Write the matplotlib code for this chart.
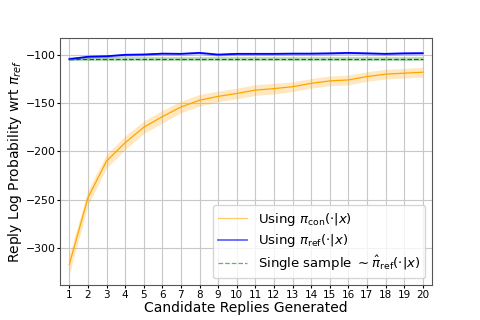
import numpy as np
import matplotlib
matplotlib.use('Agg')
import matplotlib.pyplot as plt

# candidate replies generated
n_replies = list(range(1, 21))

# mean reply log prob wrt pi_ref
con_mean = [-317, -248, -210, -191, -175, -164, -154, -147, -143, -140,
            -136.5, -135, -133, -129.5, -127, -126, -122.5, -120, -119, -118]
con_err = [10, 8, 7, 7, 6.5, 6.5, 6, 6, 5.5, 5.5,
           5.5, 5.5, 5, 5, 5, 5, 5, 5, 5, 5]

ref_mean = [-104.5, -102, -101.5, -100, -99.7, -98.8, -99, -98, -99.8, -99,
            -99, -99, -98.8, -98.8, -98.5, -98, -98.5, -99, -98.5, -98.3]
ref_err = [1.5, 1.5, 1.5, 1.5, 1.5, 1.5, 1.5, 1.5, 1.5, 1.5,
           1.5, 1.5, 1.5, 1.5, 1.5, 1.5, 1.5, 1.5, 1.5, 1.5]

single_mean = -104.5
single_err = 2.3

x = np.array(n_replies)
con_mean = np.array(con_mean)
con_err = np.array(con_err)
ref_mean = np.array(ref_mean)
ref_err = np.array(ref_err)

fig, ax = plt.subplots(figsize=(4.8, 3.2), dpi=100)

ax.plot(x, con_mean, color='orange', lw=0.9, label=r'Using $\pi_{\rm con}(\cdot|x)$')
ax.fill_between(x, con_mean - con_err, con_mean + con_err, color='orange', alpha=0.25, lw=0)

ax.plot(x, ref_mean, color='blue', lw=1.3, label=r'Using $\pi_{\rm ref}(\cdot|x)$')
ax.fill_between(x, ref_mean - ref_err, ref_mean + ref_err, color='blue', alpha=0.2, lw=0)

ax.plot(x, [single_mean] * len(x), color='green', ls='--', lw=0.9,
        label=r'Single sample $\sim\hat{\pi}_{\rm ref}(\cdot|x)$')
ax.fill_between(x, single_mean - single_err, single_mean + single_err, color='green', alpha=0.25, lw=0)

ax.set_xlim(0.5, 20.5)
ax.set_ylim(-338, -83)
ax.set_xticks(n_replies)
ax.tick_params(axis='x', labelsize=7.5, length=2.5, pad=1.2)
ax.tick_params(axis='y', labelsize=7.8, length=2.5, pad=0.5)
ax.grid(True, color='#c8c8c8', lw=0.8)
ax.set_axisbelow(True)
for s in ax.spines.values():
    s.set_color('#555555')

ax.set_xlabel('Candidate Replies Generated', fontsize=10, labelpad=0.5)
ax.set_ylabel(r'Reply Log Probability wrt $\pi_{ref}$', fontsize=10, labelpad=1)

leg = ax.legend(loc='lower right', fontsize=9.5, handlelength=2.2, handletextpad=0.8,
                labelspacing=0.35, borderaxespad=0.5)
for line in leg.get_lines():
    line.set_alpha(0.6)

plt.savefig('out.png', dpi=100)
